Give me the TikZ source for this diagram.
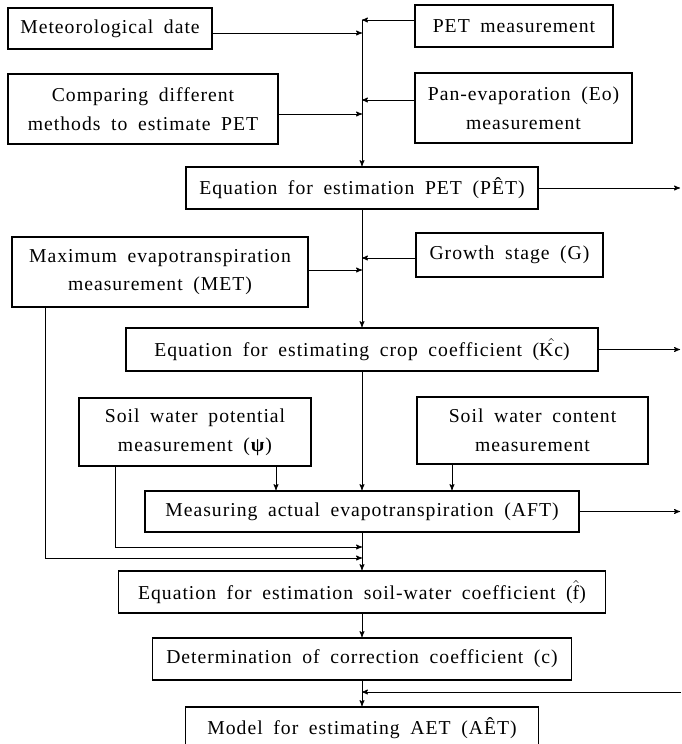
\documentclass[tikz,border=0pt]{standalone}
\usepackage{fontspec}
\setmainfont{Liberation Serif}[LetterSpace=5,WordSpace=1.8]
\usetikzlibrary{arrows}
\usetikzlibrary{positioning}
\newcommand{\hatx}[1]{\ensuremath{\hat{\hbox{#1}}}}
\tikzset{box/.style={draw,rectangle,line width=1.2pt,inner sep=0pt,align=center,
  font=\fontsize{14}{20.5}\selectfont,minimum height=1.05cm}}

\begin{document}
\begin{tikzpicture} [->,>=stealth',auto,node distance=2.0cm,line width=0.6pt]
  \path[use as bounding box] (0,0) rectangle (17.025,-18.6);

  \node[box] (1) at (2.75,-0.7125) [minimum width=5.1cm,minimum height=1.025cm] {Meteorological date};
  \node[box] (2) at (12.85,-0.65) [minimum width=4.95cm] {PET measurement};
  \node[box] (3) at (3.575,-2.725) [minimum width=6.75cm,minimum height=1.75cm] {Comparing different\\methods to estimate PET};
  \node[box] (4) at (13.0875,-2.7) [minimum width=5.425cm,minimum height=1.75cm] {Pan-evaporation (Eo)\\measurement};
  \node[box] (5) at (9.05,-4.7) [minimum width=8.8cm] {Equation for estimation PET (P\^ET)};
  \node[box] (6) at (4.0,-6.8) [minimum width=7.4cm,minimum height=1.75cm] {Maximum evapotranspiration\\measurement (MET)};
  \node[box] (7) at (12.7375,-6.375) [minimum width=4.675cm,minimum height=1.1cm] {Growth stage (G)};
  \node[box] (8) [below of=5, node distance=4.0375cm, minimum width=11.8cm, minimum height=1.075cm] {Equation for estimating crop coefficient (\hatx{Kc})};
  \node[box] (9) at (4.875,-10.8) [minimum width=5.8cm,minimum height=1.7cm] {Soil water potential\\measurement (\textbf{ψ})};
  \node[box] (10) at (13.3125,-10.7625) [minimum width=5.775cm,minimum height=1.675cm] {Soil water content\\measurement};
  \node[box] (11) [below of=8, node distance=4.05cm, minimum width=10.85cm, minimum height=1.025cm] {Measuring actual evapotranspiration (AFT)};
  \node[box] (12) [below of=11, node distance=2.0125cm, minimum width=12.175cm] {Equation for estimation soil-water coefficient (\hatx{f})};
  \node[box] (13) [below of=12, node distance=1.675cm, minimum width=10.475cm] {Determination of correction coefficient (c)};
  \node[box] (14) [below of=13, node distance=1.725cm, minimum width=8.825cm] {Model for estimating AET (A\^ET)};

  % points on the main line and free ends
  \coordinate (j1) at (9.05,-0.5);
  \coordinate (j2) at (9.05,-0.825);
  \coordinate (j3) at (9.05,-2.5);
  \coordinate (j4) at (9.05,-2.85);
  \coordinate (j5) at (9.05,-6.45);
  \coordinate (j6) at (9.05,-6.75);
  \coordinate (j7) at (9.05,-13.675);
  \coordinate (j8) at (9.05,-13.95);
  \coordinate (j9) at (9.05,-17.3);
  \coordinate (r1) at (17.0,-4.7);
  \coordinate (r2) at (17.0,-8.7375);
  \coordinate (r3) at (17.0,-12.7875);
  \coordinate (r4) at (17.025,-17.3);
  \coordinate (p1) at (6.9,0);
  \coordinate (p2) at (11.3,0);
  \coordinate (p3) at (2.875,0);
  \coordinate (p4) at (1.125,0);

  \path
    (2.west |- j1) edge (j1)
    (1.east |- j2) edge (j2)
    (4.west |- j3) edge (j3)
    (3.east |- j4) edge (j4)
    (j1) edge (5)
    (5) edge (r1)
        edge (8)
    (7.west |- j5) edge (j5)
    (6.east |- j6) edge (j6)
    (8) edge (r2)
        edge (11)
    (9.south -| p1) edge (11.north -| p1)
    (10.south -| p2) edge (11.north -| p2)
    (11) edge (r3)
         edge (12)
    (12) edge (13)
    (13) edge (14)
    (r4) edge (j9);

  \draw (9.south -| p3) |- (j7);
  \draw (6.south -| p4) |- (j8);

\end{tikzpicture}
\end{document}
